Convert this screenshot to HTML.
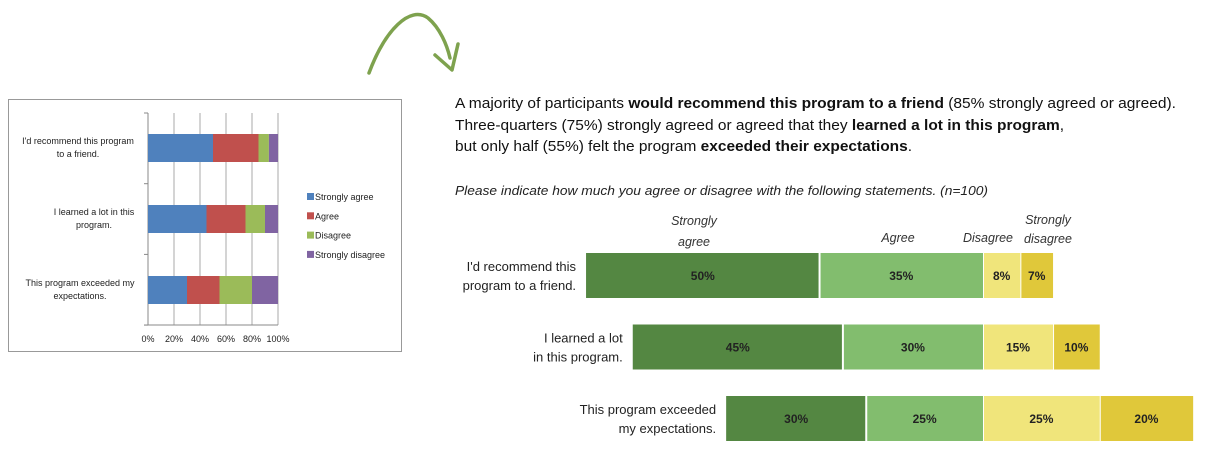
<!DOCTYPE html>
<html><head><meta charset="utf-8"><style>
html,body{margin:0;padding:0;background:#fff;}
svg{display:block;font-family:"Liberation Sans",sans-serif;}
</style></head><body>
<svg id="c" width="1230" height="474" viewBox="0 0 1230 474">
<path d="M369,73 C385,30 410,5 428,18 C440,28 447,45 450,58" fill="none" stroke="#7ea24e" stroke-width="3.5" stroke-linecap="round"/>
<path d="M435,55 L452,70 L458,44" fill="none" stroke="#7ea24e" stroke-width="3.5" stroke-linecap="round" stroke-linejoin="round"/>
<rect x="8.5" y="99.5" width="393" height="252" fill="#fff" stroke="#999"/>
<g id="small"></g>
<g font-size="14.5" fill="#111">
<text x="455" y="108" textLength="721" lengthAdjust="spacingAndGlyphs">A majority of participants <tspan font-weight="bold">would recommend this program to a friend</tspan>  (85% strongly agreed or agreed).</text>
<text x="455" y="130" textLength="609" lengthAdjust="spacingAndGlyphs">Three-quarters (75%) strongly agreed or agreed that they <tspan font-weight="bold">learned a lot in this program</tspan>,</text>
<text x="455" y="151" textLength="457" lengthAdjust="spacingAndGlyphs">but only half (55%) felt the program <tspan font-weight="bold">exceeded their expectations</tspan>.</text>
</g>
<text x="455" y="195" font-size="12.5" font-style="italic" fill="#222" textLength="533" lengthAdjust="spacingAndGlyphs">Please indicate how much you agree or disagree with the following statements. (n=100)</text>
<g id="big"></g>
</svg>
<script>
const categories = ["I'd recommend this program to a friend.", "I learned a lot in this program.", "This program exceeded my expectations."];
const labelLines = [["I'd recommend this","program to a friend."],["I learned a lot","in this program."],["This program exceeded","my expectations."]];
const seriesNames = ["Strongly agree","Agree","Disagree","Strongly disagree"];
const stronglyAgree = [50,45,30];
const agree = [35,30,25];
const disagree = [8,15,25];
const stronglyDisagree = [7,10,20];
const smallTicks = ["0%","20%","40%","60%","80%","100%"];
const NS="http://www.w3.org/2000/svg";
function mk(p,t,a){const e=document.createElementNS(NS,t);for(const k in a)e.setAttribute(k,a[k]);p.appendChild(e);return e;}
const series=[stronglyAgree,agree,disagree,stronglyDisagree];

// small chart
const sg=document.getElementById('small');
const sx=v=>148+v*1.3;
const rowY=i=>134+i*71;
for(let t=0;t<=5;t++){const l=mk(sg,'line',{x1:sx(t*20),x2:sx(t*20),y1:113,y2:325,stroke:t==0?'#888':'#aaa'});

const tx=mk(sg,'text',{x:sx(t*20),y:342,'font-size':9,'text-anchor':'middle',fill:'#222'});tx.textContent=smallTicks[t];
}
for(let k=0;k<4;k++){const l=mk(sg,'line',{x1:144,x2:148,y1:113+k*70.7,y2:113+k*70.7,stroke:'#888'});}
mk(sg,'line',{x1:144,x2:278,y1:325,y2:325,stroke:'#888'});
const sCol=['#4f81bd','#c0504d','#9bbb59','#8064a2'];
const sLab=[["I'd recommend this program","to a friend."],["I learned a lot in this","program."],["This program exceeded my","expectations."]];
const sLabCenter=[78,94,80];
for(let i=0;i<3;i++){let acc=0;const tot=series.reduce((s,a)=>s+a[i],0);
for(let s=0;s<4;s++){const v=series[s][i]/tot*100;const r=mk(sg,'rect',{x:sx(acc),y:rowY(i),width:sx(acc+v)-sx(acc),height:28,fill:sCol[s]});
acc+=v;}
sLab[i].forEach((ln,j)=>{const t=mk(sg,'text',{x:sLabCenter[i],y:rowY(i)+10+j*13,'font-size':9,'text-anchor':'middle',fill:'#222'});
t.textContent=ln;});}
for(let s=0;s<4;s++){const y=193+s*19.3;mk(sg,'rect',{x:307,y:y,width:7,height:7,fill:sCol[s]});
const t=mk(sg,'text',{x:315,y:y+7,'font-size':9,fill:'#222'});t.textContent=seriesNames[s];
}

// diverging chart
const bg=document.getElementById('big');
const center=983,px=4.67;
const bx=v=>center+v*px;
const bY=i=>253+i*71.5;
const bCol=['#548742','#82bd6e','#f0e57b','#e0c83a'];
for(let i=0;i<3;i++){
 const starts=[-(stronglyAgree[i]+agree[i]),-agree[i],0,disagree[i]];
 for(let s=0;s<4;s++){const x0=bx(starts[s]),x1=bx(starts[s]+series[s][i]);
  const r=mk(bg,'rect',{x:x0+(s==0?0:1),y:bY(i),width:x1-x0-1,height:45,fill:bCol[s]});
  
  const t=mk(bg,'text',{x:(x0+x1)/2,y:bY(i)+27,'font-size':12,'font-weight':'bold','text-anchor':'middle',fill:'#222'});t.textContent=series[s][i]+'%';
  }
 const lx=bx(starts[0])-10;
 labelLines[i].forEach((ln,j)=>{const t=mk(bg,'text',{x:lx,y:bY(i)+18+j*19,'font-size':13,'text-anchor':'end',fill:'#222'});t.textContent=ln;
  });
}
const hdr=[[["Strongly","agree"],694,[225,246]],[["Agree"],898,[242]],[["Disagree"],988,[242]],[["Strongly","disagree"],1048,[224,243]]];
hdr.forEach(h=>h[0].forEach((ln,j)=>{const t=mk(bg,'text',{x:h[1],y:h[2][j],'font-size':12.5,'font-style':'italic','text-anchor':'middle',fill:'#333'});t.textContent=ln;
 }));
</script>
</body></html>
